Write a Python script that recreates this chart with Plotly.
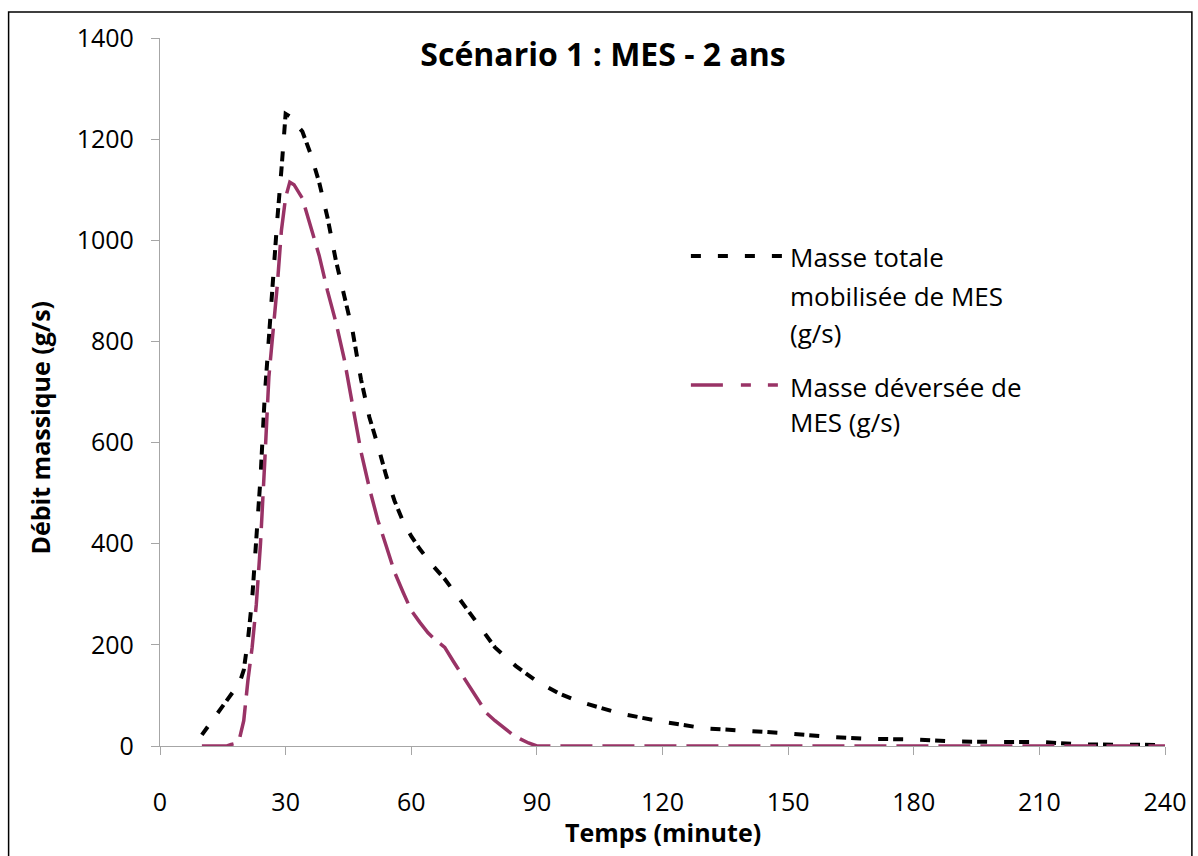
import plotly.graph_objects as go

# ---- data ----
total_time = [10, 12, 14, 16, 18, 19, 20, 21, 22, 23, 24, 25, 26, 27, 28, 29, 30, 31, 32,
              34, 36, 38, 40, 42, 44, 46, 48, 50, 52, 54, 56, 58, 60, 62, 65, 68, 70,
              75, 80, 85, 90, 95, 100, 110, 120, 130, 140, 150, 160, 170, 180, 190,
              200, 210, 220, 230, 240]
total_mass = [22, 45, 68, 92, 115, 125, 150, 210, 290, 410, 530, 690, 810, 930, 1040, 1140, 1250, 1245, 1235,
              1215, 1170, 1115, 1045, 960, 890, 820, 725, 650, 595, 535, 485, 445, 415, 390, 358, 330, 308,
              252, 195, 158, 128, 105, 88, 64, 48, 35, 30, 25, 18, 14, 13, 9,
              8, 8, 3, 2, 2]

spill_time = [10, 12, 14, 16, 17, 18, 19, 20, 21, 22, 23, 24, 25, 26, 27, 28, 29, 30, 31, 32,
              34, 36, 38, 40, 42, 44, 46, 48, 50, 52, 54, 56, 58, 60, 62, 64, 66, 68, 70,
              72, 74, 76, 78, 80, 82, 84, 86, 88, 90, 100, 110, 120, 130, 140, 150, 160,
              170, 180, 190, 200, 210, 220, 230, 240]
spill_mass = [0, 0, 0, 0, 3, 5, 15, 50, 130, 195, 280, 400, 560, 730, 820, 910, 1020, 1085, 1115, 1110,
              1083, 1025, 970, 900, 838, 765, 675, 582, 510, 447, 396, 344, 305, 268, 245, 224, 208, 195, 168,
              142, 116, 88, 65, 50, 37, 24, 14, 6, 0, 0, 0, 0, 0, 0, 0, 0,
              0, 0, 0, 0, 0, 0, 0, 0]

series_names = ["Masse totale mobilisée de MES (g/s)", "Masse déversée de MES (g/s)"]
legend_lines_total = ["Masse totale", "mobilisée de MES", "(g/s)"]
legend_lines_spill = ["Masse déversée de", "MES (g/s)"]
x_ticks = [0, 30, 60, 90, 120, 150, 180, 210, 240]
y_ticks = [0, 200, 400, 600, 800, 1000, 1200, 1400]

BLACK = "#000000"
PLUM = "#993366"
FONT = "Open Sans"

# layout geometry (pixels)
W, H = 1198, 856
L, R, T, B = 160, 1198 - 1169, 38, 856 - 746
PW, PH = W - L - R, H - T - B


def px_x(p):
    return (p - L) / PW


def px_y(p):
    return (H - B - p) / PH


fig = go.Figure()
fig.add_trace(go.Scatter(x=total_time, y=total_mass, mode="lines", name=series_names[0],
                         line=dict(color=BLACK, width=4, dash="10px,17px,10px,5px"),
                         showlegend=False))
fig.add_trace(go.Scatter(x=spill_time, y=spill_mass, mode="lines", name=series_names[1],
                         line=dict(color=PLUM, width=3.5, dash="32px,10px"),
                         showlegend=False))

axis_common = dict(showgrid=False, zeroline=False, showline=True, linecolor="#a6a6a6",
                   linewidth=1.3, ticks="outside", ticklen=8, tickcolor="#a6a6a6", tickwidth=1.3,
                   tickfont=dict(family=FONT, size=25, color="black"))

fig.update_xaxes(range=[0, 240], tickvals=x_ticks, ticklabelstandoff=26, **axis_common)
fig.update_yaxes(range=[0, 1400], tickvals=y_ticks, ticklabelstandoff=12, **axis_common)

shapes = [
    # outer chart border
    dict(type="rect", xref="paper", yref="paper", x0=px_x(8), x1=px_x(1196), y0=px_y(880), y1=px_y(12),
         line=dict(color="black", width=1.5), fillcolor="rgba(0,0,0,0)", layer="below"),
    # legend samples
    dict(type="line", xref="paper", yref="paper", x0=px_x(693), x1=px_x(786), y0=px_y(256), y1=px_y(256),
         line=dict(color=BLACK, width=4, dash="10px,17px")),
    dict(type="line", xref="paper", yref="paper", x0=px_x(693), x1=px_x(781), y0=px_y(385), y1=px_y(385),
         line=dict(color=PLUM, width=3.5, dash="32px,18px,10px,17px,10px,17px")),
]

annotations = []
for txt, yp in zip(legend_lines_total, [257, 296, 333]):
    annotations.append(dict(text=txt, xref="paper", yref="paper", x=px_x(791), y=px_y(yp),
                            xanchor="left", yanchor="middle", showarrow=False,
                            font=dict(family=FONT, size=26, color="black")))
for txt, yp in zip(legend_lines_spill, [387, 422]):
    annotations.append(dict(text=txt, xref="paper", yref="paper", x=px_x(791), y=px_y(yp),
                            xanchor="left", yanchor="middle", showarrow=False,
                            font=dict(family=FONT, size=26, color="black")))
# axis titles
annotations.append(dict(text="Temps (minute)", xref="paper", yref="paper", x=px_x(665), y=px_y(832),
                        xanchor="center", yanchor="middle", showarrow=False,
                        font=dict(family=FONT, size=25, color="black", weight=700)))
annotations.append(dict(text="Débit massique (g/s)", xref="paper", yref="paper", x=px_x(40), y=px_y(427),
                        xanchor="center", yanchor="middle", showarrow=False, textangle=-90,
                        font=dict(family=FONT, size=25, color="black", weight=700)))

fig.update_layout(
    width=W, height=H,
    margin=dict(l=L, r=R, t=T, b=B),
    paper_bgcolor="white", plot_bgcolor="white",
    title=dict(text="Scénario 1 : MES - 2 ans", x=603 / W, xref="container", xanchor="center",
               y=1 - 55 / H, yref="container", yanchor="middle",
               font=dict(family=FONT, size=32, color="black", weight=700)),
    shapes=shapes, annotations=annotations,
    showlegend=False,
)

fig.write_html("out.html")
